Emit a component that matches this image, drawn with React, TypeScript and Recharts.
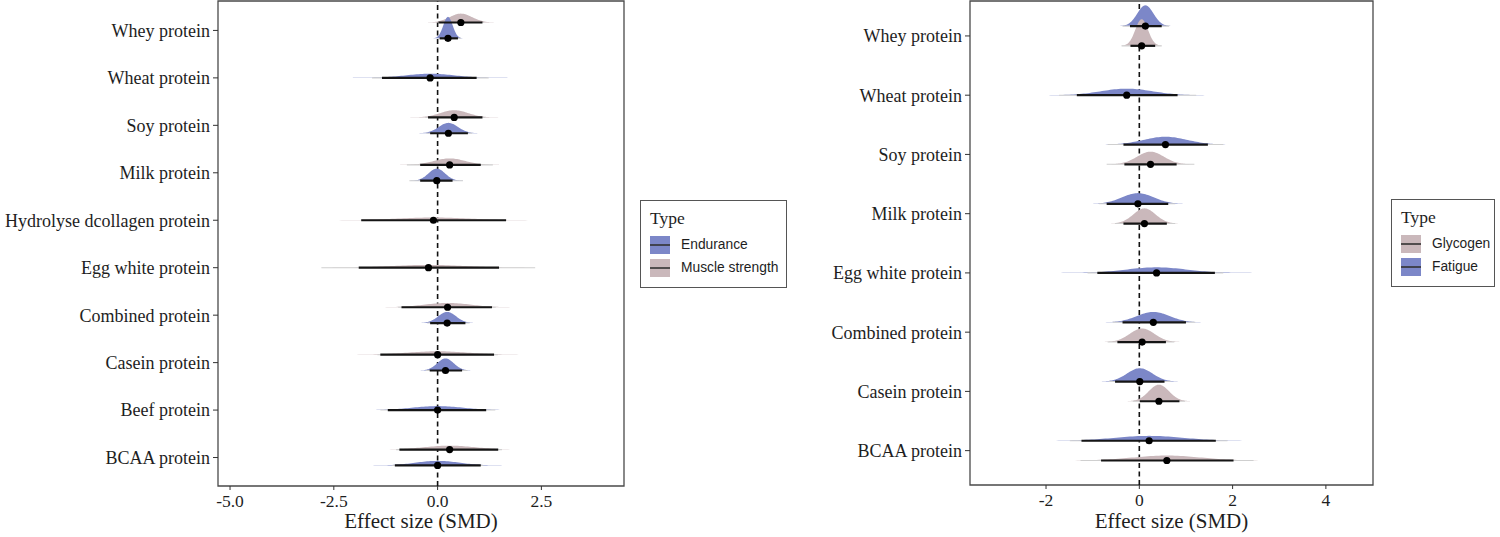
import React from "react";
import {
  ScatterChart,
  Scatter,
  XAxis,
  YAxis,
  ReferenceLine,
  ReferenceArea,
} from "recharts";

const BLUE = "#7c87c8";
const PINK = "#cab8bb";
const SERIF = "'Liberation Serif', 'Times New Roman', serif";
const SANS = "'Liberation Sans', Arial, sans-serif";

// ---- left panel: endurance / muscle strength ----
const leftCategories = [
  "Whey protein",
  "Wheat protein",
  "Soy protein",
  "Milk protein",
  "Hydrolyse dcollagen protein",
  "Egg white protein",
  "Combined protein",
  "Casein protein",
  "Beef protein",
  "BCAA protein",
];
const enduranceMean = [0.25, -0.18, 0.26, -0.02, null, null, 0.23, 0.19, 0.0, 0.0];
const enduranceLow = [0.05, -1.34, -0.18, -0.42, null, null, -0.18, -0.19, -1.2, -1.03];
const enduranceHigh = [0.49, 0.94, 0.73, 0.36, null, null, 0.67, 0.59, 1.17, 1.04];
const enduranceOuterLow = [0.02, -1.58, -0.27, -0.68, null, null, -0.25, -0.28, -1.38, -1.1];
const enduranceOuterHigh = [0.56, 1.23, 0.83, 0.61, null, null, 0.77, 0.72, 1.39, 1.1];

const strengthMean = [0.56, null, 0.4, 0.29, -0.1, -0.22, 0.24, 0.0, null, 0.29];
const strengthLow = [0.02, null, -0.23, -0.42, -1.84, -1.9, -0.87, -1.38, null, -0.92];
const strengthHigh = [1.08, null, 1.08, 1.04, 1.65, 1.48, 1.31, 1.36, null, 1.46];
const strengthOuterLow = [0.0, null, -0.3, -0.74, -1.84, -2.8, -0.95, -1.45, null, -1.0];
const strengthOuterHigh = [1.12, null, 1.15, 1.33, 1.65, 2.35, 1.4, 1.45, null, 1.55];

// ---- right panel: fatigue / glycogen ----
const rightCategories = [
  "Whey protein",
  "Wheat protein",
  "Soy protein",
  "Milk protein",
  "Egg white protein",
  "Combined protein",
  "Casein protein",
  "BCAA protein",
];
const fatigueMean = [0.13, -0.27, 0.56, -0.03, 0.37, 0.3, 0.01, 0.21];
const fatigueLow = [-0.2, -1.34, -0.34, -0.7, -0.9, -0.36, -0.52, -1.24];
const fatigueHigh = [0.48, 0.82, 1.47, 0.62, 1.62, 1.0, 0.54, 1.64];
const fatigueOuterLow = [-0.36, -1.72, -0.68, -0.86, -1.11, -0.57, -0.65, -1.49];
const fatigueOuterHigh = [0.64, 1.22, 1.8, 0.77, 1.8, 1.2, 0.67, 1.89];

const glycogenMean = [0.05, null, 0.24, 0.11, null, 0.06, 0.42, 0.59];
const glycogenLow = [-0.19, null, -0.32, -0.34, null, -0.47, 0.01, -0.82];
const glycogenHigh = [0.34, null, 0.8, 0.59, null, 0.57, 0.86, 2.02];
const glycogenOuterLow = [-0.38, null, -0.7, -0.52, null, -0.68, -0.14, -1.26];
const glycogenOuterHigh = [0.48, null, 1.18, 0.77, null, 0.75, 0.98, 2.45];

const leftTicks = [-5, -2.5, 0, 2.5];
const rightTicks = [-2, 0, 2, 4];

interface Series {
  color: string;
  mean: (number | null)[];
  low: (number | null)[];
  high: (number | null)[];
  outerLow: (number | null)[];
  outerHigh: (number | null)[];
}

interface Dist {
  key: string;
  color: string;
  y: number;
  mean: number;
  lo: number;
  hi: number;
  olo: number;
  ohi: number;
}

// upper series sits above the tick, lower below; a lone one sits on the tick
const buildDists = (n: number, upper: Series, lower: Series): Dist[] => {
  const out: Dist[] = [];
  for (let i = 0; i < n; i++) {
    const hasU = upper.mean[i] !== null;
    const hasL = lower.mean[i] !== null;
    const both = hasU && hasL;
    [
      [upper, hasU, both ? i - 1 / 6 : i, "u"],
      [lower, hasL, both ? i + 1 / 6 : i, "l"],
    ].forEach(([s, has, y, tag]: any) => {
      if (!has) return;
      out.push({
        key: `${tag}${i}`,
        color: s.color,
        y,
        mean: s.mean[i],
        lo: s.low[i],
        hi: s.high[i],
        olo: s.outerLow[i],
        ohi: s.outerHigh[i],
      });
    });
  }
  return out;
};

// half-eye slab drawn from the pixel positions of low / mean / high
const slabLine = (color: string, k: number) => (props: any) => {
  const pts = props.points;
  if (!pts || pts.length < 3) return <g />;
  const [lo, mid, hi] = pts;
  const sd = Math.abs(hi.x - lo.x) / 3.92;
  const h = k / sd;
  const span = 3.2;
  let d = `M${mid.x - span * sd},${mid.y}`;
  for (let i = 0; i <= 80; i++) {
    const z = -span + (2 * span * i) / 80;
    d += ` L${mid.x + z * sd},${mid.y - h * Math.exp(-0.5 * z * z)}`;
  }
  d += ` L${mid.x + span * sd},${mid.y} Z`;
  return <path d={d} fill={color} stroke="none" />;
};

const intervalLine = (props: any) => {
  const p = props.points;
  if (!p || p.length < 5) return <g />;
  return (
    <g>
      <line x1={p[0].x} x2={p[4].x} y1={p[0].y} y2={p[0].y} stroke="#cfcfcf" strokeWidth={1.1} />
      <line x1={p[1].x} x2={p[3].x} y1={p[1].y} y2={p[1].y} stroke="#151515" strokeWidth={2.2} />
    </g>
  );
};

const dotShape = (props: any) =>
  props.payload && props.payload.role === "mean" ? (
    <circle cx={props.cx} cy={props.cy} r={3.6} fill="#000" />
  ) : (
    <g />
  );

const noShape = () => <g />;

interface PanelProps {
  categories: string[];
  dists: Dist[];
  xDomain: [number, number];
  yDomain: [number, number];
  ticks: number[];
  tickFmt: (v: number) => string;
  width: number;
  yAxisWidth: number;
  rightMargin: number;
  xAxisHeight: number;
  k: number;
}

const Panel = (p: PanelProps) => (
  <ScatterChart
    width={p.width}
    height={537}
    margin={{ top: 1, right: p.rightMargin, bottom: 0, left: 0 }}
  >
    <XAxis
      type="number"
      dataKey="x"
      domain={p.xDomain}
      ticks={p.ticks}
      allowDataOverflow
      tickFormatter={p.tickFmt}
      axisLine={false}
      tickSize={4}
      tickMargin={5}
      tickLine={{ stroke: "#333" }}
      tick={{ fontFamily: SERIF, fontSize: 17.5, fill: "#1e1e1e" }}
      height={p.xAxisHeight}
      label={{
        value: "Effect size (SMD)",
        position: "insideBottom",
        offset: 9,
        style: { fontFamily: SERIF, fontSize: 21, fill: "#1e1e1e" },
      }}
    />
    <YAxis
      type="number"
      dataKey="y"
      domain={p.yDomain}
      reversed
      allowDataOverflow
      ticks={p.categories.map((_, i) => i)}
      tickFormatter={(v: number) => p.categories[v] ?? ""}
      interval={0}
      axisLine={false}
      tickSize={5}
      tickMargin={3}
      tickLine={{ stroke: "#333" }}
      tick={{ fontFamily: SERIF, fontSize: 18, fill: "#1e1e1e" }}
      width={p.yAxisWidth}
    />
    {p.dists.map((d) => (
      <Scatter
        key={`slab-${d.key}`}
        data={[
          { x: d.lo, y: d.y },
          { x: d.mean, y: d.y },
          { x: d.hi, y: d.y },
        ]}
        line={slabLine(d.color, p.k)}
        shape={noShape}
        isAnimationActive={false}
      />
    ))}
    <ReferenceLine x={0} stroke="#111" strokeWidth={1.6} strokeDasharray="5 3.5" />
    {p.dists.map((d) => (
      <Scatter
        key={`int-${d.key}`}
        data={[
          { x: d.olo, y: d.y, role: "outer" },
          { x: d.lo, y: d.y, role: "low" },
          { x: d.mean, y: d.y, role: "mean" },
          { x: d.hi, y: d.y, role: "high" },
          { x: d.ohi, y: d.y, role: "outer" },
        ]}
        line={intervalLine}
        shape={dotShape}
        isAnimationActive={false}
      />
    ))}
    <ReferenceArea
      x1={p.xDomain[0]}
      x2={p.xDomain[1]}
      y1={p.yDomain[0]}
      y2={p.yDomain[1]}
      fill="none"
      stroke="#4a4a4a"
      strokeWidth={1.3}
    />
  </ScatterChart>
);

const LegendBox = ({
  left,
  top,
  width,
  items,
}: {
  left: number;
  top: number;
  width: number;
  items: { name: string; color: string }[];
}) => (
  <div
    style={{
      position: "absolute",
      left,
      top,
      width,
      height: 88,
      border: "1.3px solid #555",
      boxSizing: "border-box",
      background: "#fff",
    }}
  >
    <div
      style={{
        position: "absolute",
        left: 9,
        top: 7,
        fontFamily: SERIF,
        fontSize: 17.5,
        color: "#1e1e1e",
      }}
    >
      Type
    </div>
    {items.map((it, i) => (
      <div key={it.name}>
        <svg
          style={{ position: "absolute", left: 9, top: 35 + i * 23 }}
          width={20}
          height={18}
        >
          <rect x={0} y={0} width={20} height={18} fill={it.color} />
          <line x1={0} x2={20} y1={9} y2={9} stroke="#333" strokeWidth={1.6} />
        </svg>
        <div
          style={{
            position: "absolute",
            left: 40,
            top: 35 + i * 23,
            lineHeight: "18px",
            fontFamily: SANS,
            fontSize: 13.8,
            color: "#1e1e1e",
            whiteSpace: "nowrap",
          }}
        >
          {it.name}
        </div>
      </div>
    ))}
  </div>
);

const leftDists = buildDists(
  leftCategories.length,
  {
    color: PINK,
    mean: strengthMean,
    low: strengthLow,
    high: strengthHigh,
    outerLow: strengthOuterLow,
    outerHigh: strengthOuterHigh,
  },
  {
    color: BLUE,
    mean: enduranceMean,
    low: enduranceLow,
    high: enduranceHigh,
    outerLow: enduranceOuterLow,
    outerHigh: enduranceOuterHigh,
  }
);

const rightDists = buildDists(
  rightCategories.length,
  {
    color: BLUE,
    mean: fatigueMean,
    low: fatigueLow,
    high: fatigueHigh,
    outerLow: fatigueOuterLow,
    outerHigh: fatigueOuterHigh,
  },
  {
    color: PINK,
    mean: glycogenMean,
    low: glycogenLow,
    high: glycogenHigh,
    outerLow: glycogenOuterLow,
    outerHigh: glycogenOuterHigh,
  }
);

export default function App() {
  return (
    <div
      style={{
        position: "absolute",
        left: 0,
        top: 0,
        width: 1500,
        height: 537,
        background: "#fff",
        overflow: "hidden",
      }}
    >
      <div style={{ position: "absolute", left: 0, top: 0 }}>
        <Panel
          categories={leftCategories}
          dists={leftDists}
          xDomain={[-5.29, 4.49]}
          yDomain={[-0.62, 9.6]}
          ticks={leftTicks}
          tickFmt={(v) => v.toFixed(1)}
          width={800}
          yAxisWidth={218}
          rightMargin={176}
          xAxisHeight={51}
          k={100}
        />
      </div>
      <div style={{ position: "absolute", left: 800, top: 0 }}>
        <Panel
          categories={rightCategories}
          dists={rightDists}
          xDomain={[-3.63, 5.01]}
          yDomain={[-0.59, 7.58]}
          ticks={rightTicks}
          tickFmt={(v) => String(v)}
          width={700}
          yAxisWidth={170}
          rightMargin={127}
          xAxisHeight={52}
          k={168}
        />
      </div>
      <LegendBox
        left={640}
        top={200}
        width={147}
        items={[
          { name: "Endurance", color: BLUE },
          { name: "Muscle strength", color: PINK },
        ]}
      />
      <LegendBox
        left={1391}
        top={199}
        width={104}
        items={[
          { name: "Glycogen", color: PINK },
          { name: "Fatigue", color: BLUE },
        ]}
      />
    </div>
  );
}
